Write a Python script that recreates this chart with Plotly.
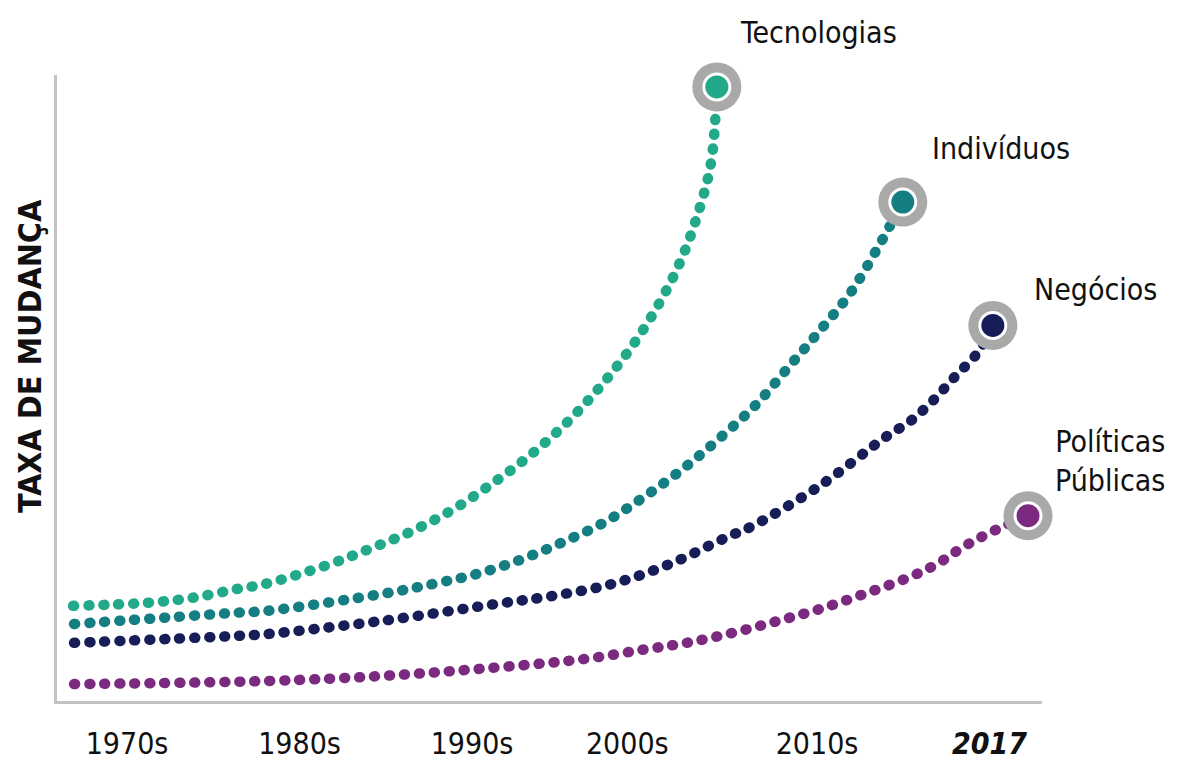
import plotly.graph_objects as go

# Curve key points: time (years) vs. rate-of-change index (0-100)
series_names = ["Tecnologias", "Indivíduos", "Negócios", "Políticas<br>Públicas"]
series_colors = ["#22a98a", "#147e82", "#161d57", "#7c2a80"]

tec_x = [1966.87, 1971.22, 1973.83, 1976.38, 1978.00, 1981.48, 1983.97, 1986.41, 1988.78,
         1991.10, 1993.25, 1995.39, 1997.30, 1999.10, 2000.72, 2002.06, 2003.10, 2003.86, 2004.19]
tec_y = [15.2, 15.7, 16.5, 17.9, 18.7, 21.6, 24.2, 27.0, 30.4,
         34.6, 39.0, 44.2, 49.8, 56.0, 62.9, 70.1, 77.9, 86.1, 98.1]

ind_x = [1966.93, 1976.38, 1978.12, 1984.78, 1987.74, 1990.29, 1992.84, 1995.28, 1997.71,
         1999.97, 2002.23, 2004.32, 2006.41, 2008.43, 2010.17, 2011.91, 2013.54, 2014.97]
ind_y = [12.3, 14.1, 14.4, 17.1, 18.7, 20.3, 22.6, 25.4, 28.6,
         32.6, 37.1, 41.9, 47.2, 53.6, 59.2, 65.1, 72.5, 79.7]

neg_x = [1966.93, 1976.38, 1978.12, 1984.78, 1991.39, 1994.70, 1998.12, 2001.48, 2004.72,
         2006.29, 2010.17, 2013.94, 2015.45, 2016.72, 2018.06, 2019.33, 2020.19]
neg_y = [9.3, 10.4, 10.7, 12.8, 15.5, 16.8, 18.7, 21.9, 26.1,
         28.0, 34.4, 42.1, 44.8, 48.0, 52.0, 55.7, 60.0]

pol_x = [1966.93, 1978.12, 1984.78, 1990.29, 1996.49, 1999.91, 2002.46, 2005.13, 2007.74,
         2010.17, 2012.72, 2015.28, 2016.96, 2018.41, 2020.03, 2022.23]
pol_y = [2.7, 3.2, 4.0, 5.1, 6.7, 8.2, 9.3, 10.9, 12.8,
         14.7, 17.1, 19.7, 21.9, 24.5, 26.9, 29.6]

tick_vals = [1970, 1980, 1990, 1999, 2010, 2020]
tick_text = ["1970s", "1980s", "1990s", "2000s", "2010s", "<b><i>2017</i></b>"]

y_title = "TAXA DE MUDANÇA"

# label offsets (px) from each curve's end point
label_offsets = [(21, 54, "left"), (27, 54, "left"), (39, 36, "left"), (139, 55, "right")]

HAND_FONT = "Liberation Sans Narrow, DejaVu Sans Condensed, Roboto, sans-serif"

xs = [tec_x, ind_x, neg_x, pol_x]
ys = [tec_y, ind_y, neg_y, pol_y]

fig = go.Figure()

# dotted curves
for name, color, x, y in zip(series_names, series_colors, xs, ys):
    fig.add_trace(go.Scatter(
        x=x, y=y, mode="lines", name=name.replace("<br>", " "),
        line=dict(color=color, width=10.5, shape="spline", smoothing=1.0, dash="1px,14px"),
        hoverinfo="skip", cliponaxis=False,
    ))

# end-point badges: grey ring, white halo, coloured core
for name, color, x, y in zip(series_names, series_colors, xs, ys):
    fig.add_trace(go.Scatter(
        x=[x[-1]], y=[y[-1]], mode="markers",
        marker=dict(size=49, color="#a9a9a9", line=dict(width=0)),
        hoverinfo="skip", cliponaxis=False,
    ))
    fig.add_trace(go.Scatter(
        x=[x[-1]], y=[y[-1]], mode="markers",
        marker=dict(size=26, color=color, line=dict(width=3, color="white")),
        hoverinfo="skip", cliponaxis=False,
    ))

annotations = []
for name, x, y, (dx, dy, anchor) in zip(series_names, xs, ys, label_offsets):
    annotations.append(dict(
        x=x[-1], y=y[-1], xref="x", yref="y", text=name, showarrow=False,
        xanchor=anchor, yanchor="middle", align=anchor, xshift=dx, yshift=dy,
        font=dict(family=HAND_FONT, size=30, color="#111111"),
    ))

# vertical axis caption
annotations.append(dict(
    x=0, y=0.551, xref="paper", yref="paper", xanchor="center", yanchor="middle",
    xshift=-27, text="<b>" + y_title + "</b>", textangle=-90, showarrow=False,
    font=dict(family=HAND_FONT, size=32, color="#111111"),
))

fig.update_layout(
    width=1178, height=767,
    margin=dict(l=57, r=136, t=75, b=66),
    paper_bgcolor="white", plot_bgcolor="white",
    showlegend=False,
    annotations=annotations,
    xaxis=dict(
        range=[1965.94, 2023.04], showgrid=False, zeroline=False, automargin=False,
        showline=True, linecolor="#c3c3c3", linewidth=3,
        tickmode="array", tickvals=tick_vals, ticktext=tick_text,
        ticks="outside", ticklen=14, tickcolor="rgba(0,0,0,0)",
        tickfont=dict(family=HAND_FONT, size=30, color="#111111"),
    ),
    yaxis=dict(
        range=[0, 100], showgrid=False, zeroline=False, automargin=False,
        showline=True, linecolor="#c3c3c3", linewidth=3,
        showticklabels=False, ticks="",
    ),
)

# round dash caps so the dotted curves are drawn as circles
round_caps = ("document.querySelectorAll('.scatterlayer .js-line')"
              ".forEach(function(p){p.style.strokeLinecap='round';});")

fig.write_html("out.html", post_script=round_caps)
